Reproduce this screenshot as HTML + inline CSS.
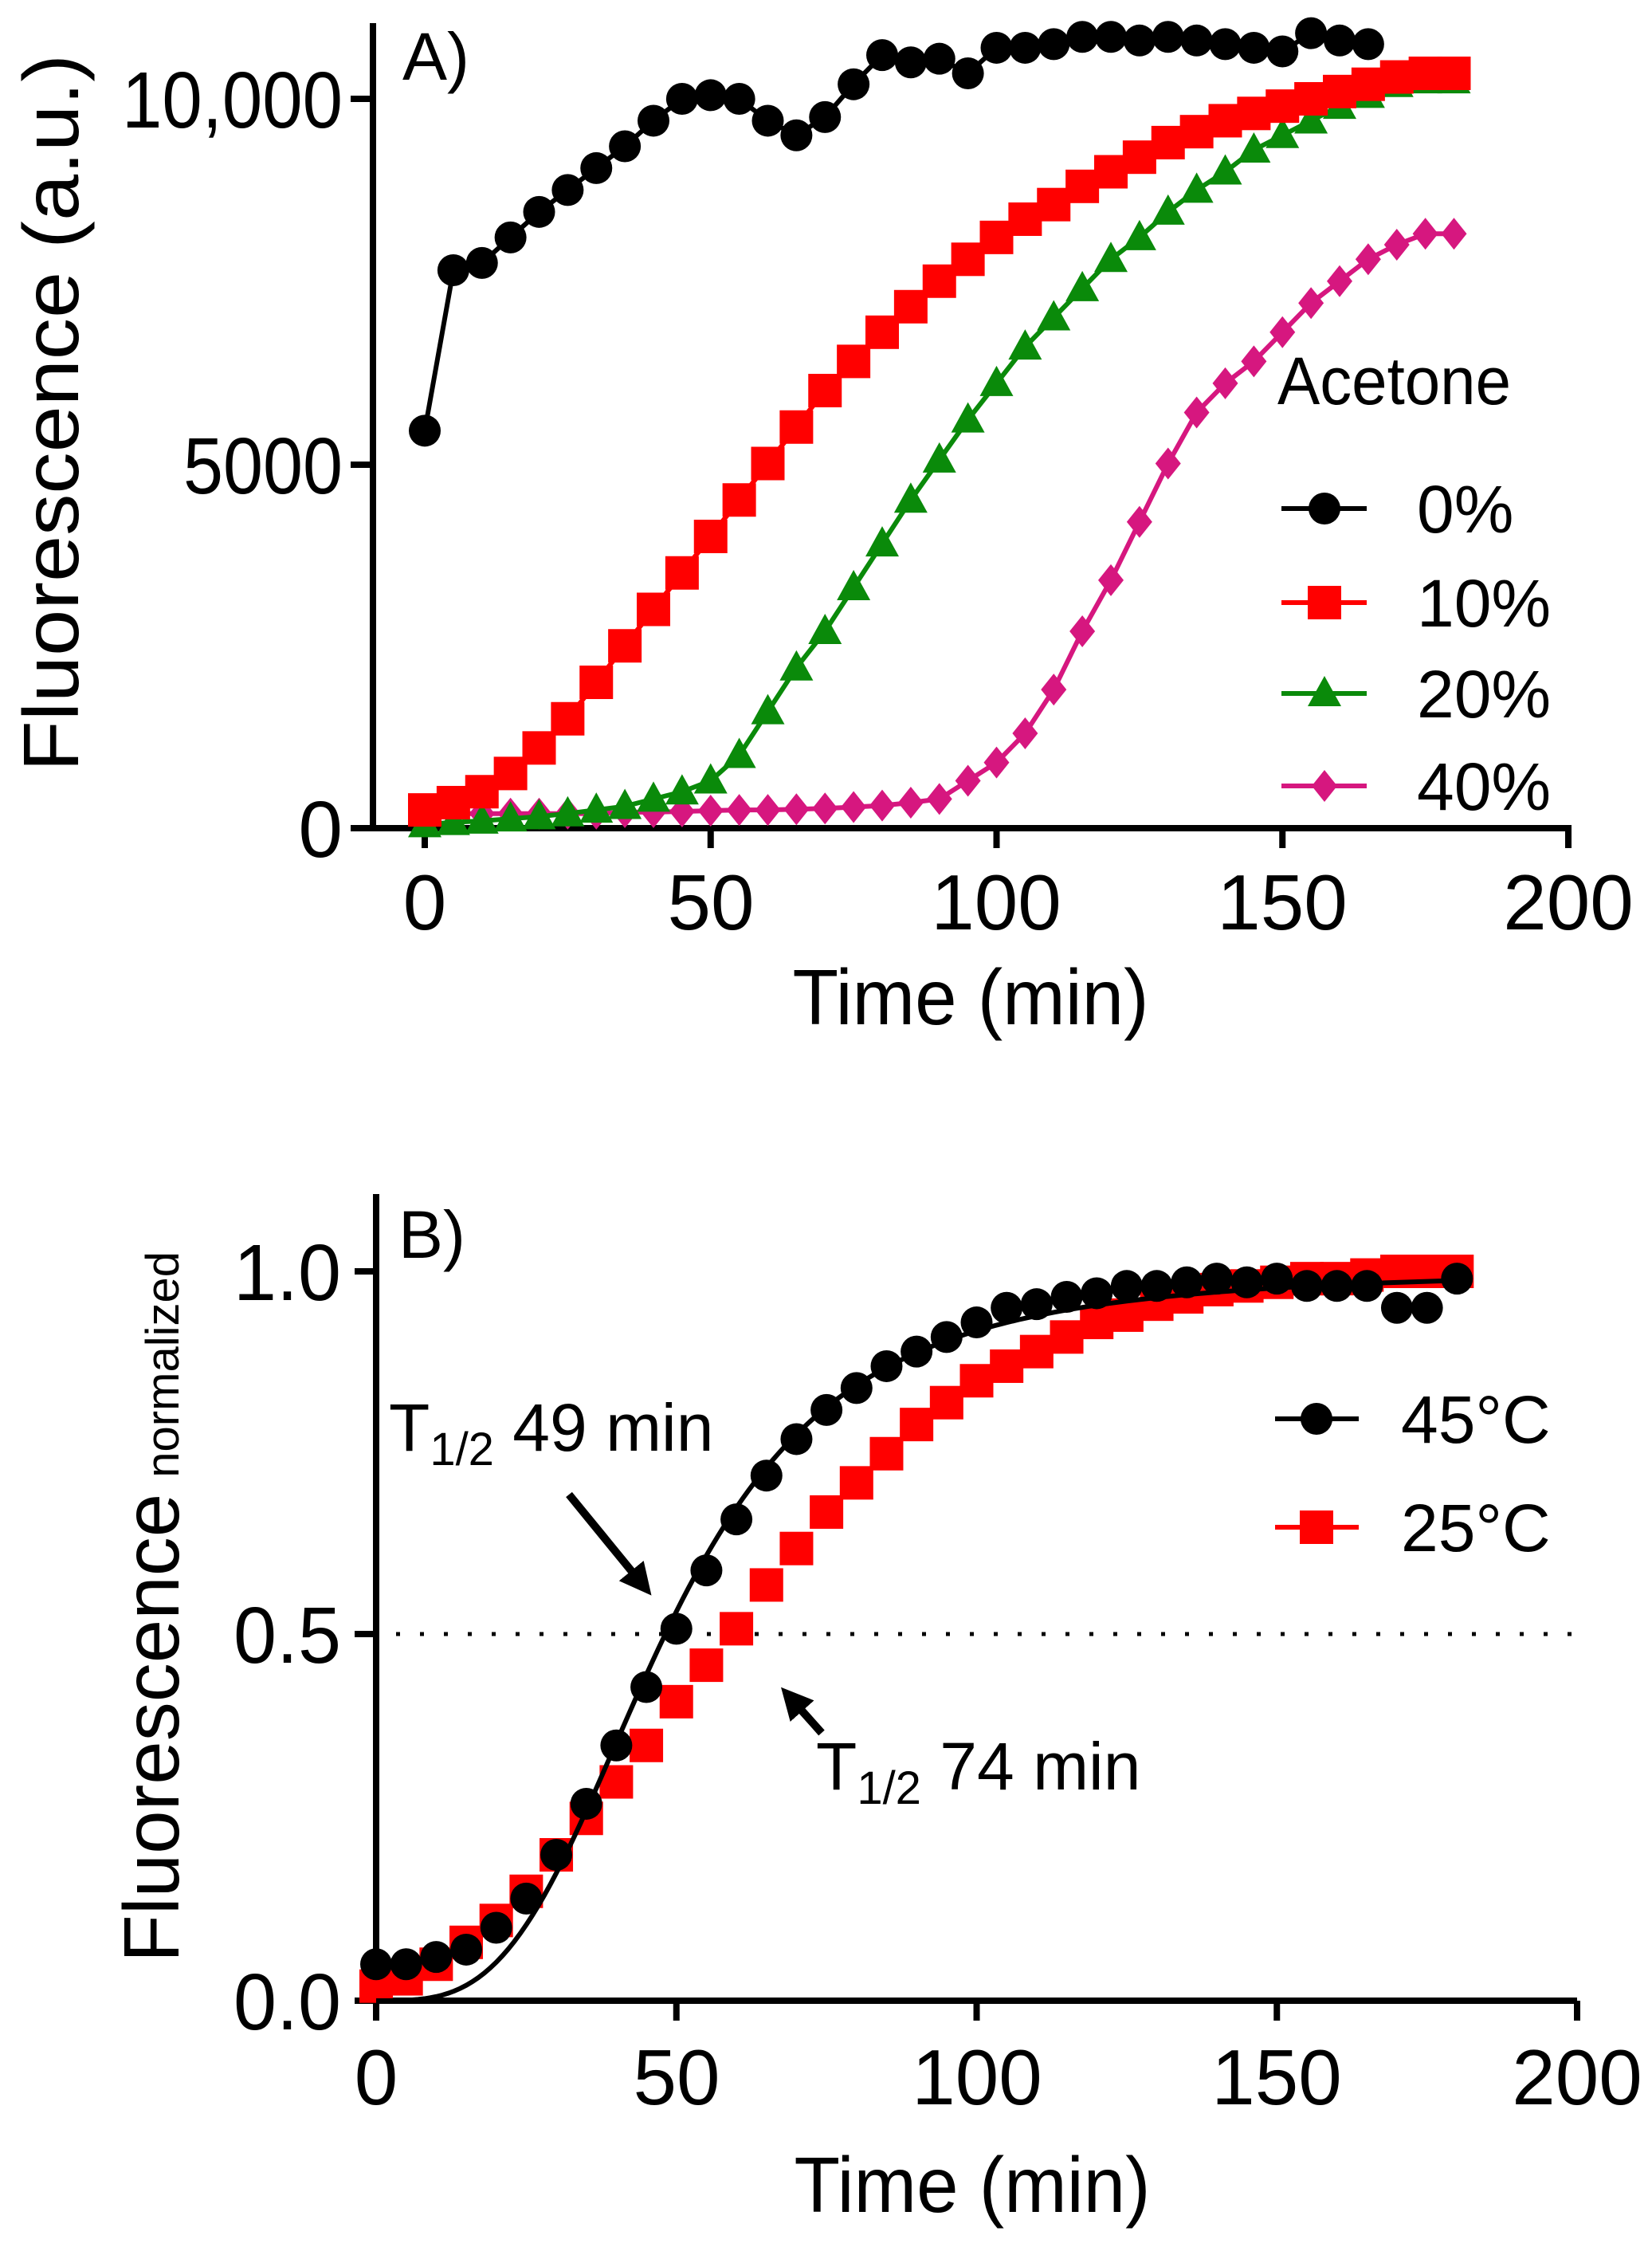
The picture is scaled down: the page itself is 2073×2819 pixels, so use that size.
<!DOCTYPE html>
<html><head><meta charset="utf-8"><style>
html,body{margin:0;padding:0;background:#fff;width:2073px;height:2819px;overflow:hidden}
svg{display:block}
text{font-family:"Liberation Sans",sans-serif;fill:#000}
</style></head><body>
<svg id="s" width="2073" height="2819" viewBox="0 0 2073 2819" xmlns="http://www.w3.org/2000/svg">
<defs>
<marker id="ah" markerWidth="4" markerHeight="4" refX="2.5" refY="2" orient="auto" markerUnits="strokeWidth"><path d="M0,0 L4,2 L0,4 z" fill="#000"/></marker>
</defs>
<g stroke="#000" stroke-width="8" fill="none">
<line x1="468" y1="29" x2="468" y2="1043"/>
<line x1="464" y1="1039" x2="1972" y2="1039"/>
<line x1="440" y1="1039" x2="468" y2="1039"/>
<line x1="440" y1="583" x2="468" y2="583"/>
<line x1="440" y1="124" x2="468" y2="124"/>
</g>
<g stroke="#000" stroke-width="8" id="xtA"></g>
<g font-size="100" text-anchor="end">
<text x="430" y="160" textLength="277" lengthAdjust="spacingAndGlyphs">10,000</text>
<text x="430" y="619" textLength="200" lengthAdjust="spacingAndGlyphs">5000</text>
<text x="430" y="1075">0</text>
</g>
<g font-size="98" text-anchor="middle">
<text x="533" y="1166">0</text>
<text x="892" y="1166">50</text>
<text x="1250" y="1166">100</text>
<text x="1609" y="1166">150</text>
<text x="1968" y="1166">200</text>
<text x="1218" y="1285" font-size="98" textLength="447" lengthAdjust="spacingAndGlyphs">Time (min)</text>
<text transform="translate(98,518) rotate(-90)" font-size="98" textLength="900" lengthAdjust="spacingAndGlyphs">Fluorescence (a.u.)</text>
</g>
<text x="505" y="100" font-size="84">A)</text>
<g id="A"></g>
<g font-size="84">
<text x="1603" y="507" textLength="293" lengthAdjust="spacingAndGlyphs">Acetone</text>
<text x="1778" y="668">0%</text>
<text x="1778" y="786">10%</text>
<text x="1778" y="900">20%</text>
<text x="1778" y="1016">40%</text>
</g>

<g stroke="#000" stroke-width="8" fill="none">
<line x1="472" y1="1498" x2="472" y2="2535"/>
<line x1="445" y1="2510" x2="1979" y2="2510"/>
<line x1="445" y1="2050" x2="472" y2="2050"/>
<line x1="445" y1="1595" x2="472" y2="1595"/>
</g>
<line x1="497" y1="2050" x2="1983" y2="2050" stroke="#000" stroke-width="5" stroke-dasharray="5 25"/>
<g stroke="#000" stroke-width="8" id="xtB"></g>
<g font-size="100" text-anchor="end">
<text x="428" y="1631" textLength="135" lengthAdjust="spacingAndGlyphs">1.0</text>
<text x="428" y="2086" textLength="135" lengthAdjust="spacingAndGlyphs">0.5</text>
<text x="428" y="2546" textLength="135" lengthAdjust="spacingAndGlyphs">0.0</text>
</g>
<g font-size="98" text-anchor="middle">
<text x="472" y="2640">0</text>
<text x="849" y="2640">50</text>
<text x="1226" y="2640">100</text>
<text x="1602" y="2640">150</text>
<text x="1979" y="2640">200</text>
<text x="1220" y="2775" textLength="447" lengthAdjust="spacingAndGlyphs">Time (min)</text>
</g>
<text transform="translate(224,2462) rotate(-90)" font-size="98">Fluorescence<tspan font-size="58" dx="20">normalized</tspan></text>
<text x="500" y="1578" font-size="84">B)</text>
<g id="B"></g>
<g font-size="84">
<text x="488" y="1820">T<tspan font-size="58" dy="18">1/2</tspan><tspan dy="-18"> 49 min</tspan></text>
<text x="1024" y="2245">T<tspan font-size="58" dy="18">1/2</tspan><tspan dy="-18"> 74 min</tspan></text>
<text x="1758" y="1810">45°C</text>
<text x="1758" y="1946">25°C</text>
</g>
<line x1="714" y1="1875" x2="808" y2="1990" stroke="#000" stroke-width="10" marker-end="url(#ah)"/>
<line x1="1031" y1="2174" x2="990" y2="2128" stroke="#000" stroke-width="10" marker-end="url(#ah)"/>
</svg>
<script>
var NS="http://www.w3.org/2000/svg";
function el(p,t,a){var e=document.createElementNS(NS,t);for(var k in a)e.setAttribute(k,a[k]);p.appendChild(e);return e;}
var xtA=document.getElementById('xtA');
[0,50,100,150,200].forEach(function(v){var x=533+v*7.175;el(xtA,'line',{x1:x,y1:1039,x2:x,y2:1064});});
var xtB=document.getElementById('xtB');
[0,50,100,150,200].forEach(function(v){var x=472+v*7.535;el(xtB,'line',{x1:x,y1:2510,x2:x,y2:2535});});
function mk(g,shape,x,y,c){
 if(shape=='c')el(g,'circle',{cx:x,cy:y,r:20,fill:c});
 else if(shape=='s')el(g,'rect',{x:x-21,y:y-21,width:42,height:42,fill:c});
 else if(shape=='t')el(g,'polygon',{points:(x)+','+(y-22)+' '+(x-21)+','+(y+16)+' '+(x+21)+','+(y+16),fill:c});
 else el(g,'polygon',{points:(x)+','+(y-20)+' '+(x-16)+','+y+' '+x+','+(y+20)+' '+(x+16)+','+y,fill:c});
}
function series(g,xs,ys,shape,c,line){
 var pts=xs.map(function(x,i){return x+','+ys[i];}).join(' ');
 if(line)el(g,'polyline',{points:pts,fill:'none',stroke:c,'stroke-width':6});
 xs.forEach(function(x,i){mk(g,shape,x,ys[i],c);});
}
var A=document.getElementById('A');
var fx=function(t){return 533+t*7.175;}, fy=function(v){return 1039-v*0.0915;};
var blk=[5450,7650,7750,8100,8450,8750,9050,9350,9700,10000,10050,10000,9700,9500,9750,10200,10600,10500,10550,10350,10700,10700,10750,10850,10850,10800,10850,10800,10750,10700,10650,10900,10800,10750];
var red=[250,350,500,750,1100,1500,2000,2500,3000,3500,4000,4500,5000,5500,6000,6400,6800,7150,7500,7800,8100,8350,8550,8800,9000,9200,9400,9550,9700,9800,9900,10000,10100,10200,10300,10350,10350];
var grn=[50,80,100,130,160,200,250,300,400,500,650,1000,1600,2200,2700,3300,3900,4500,5050,5600,6100,6600,7000,7400,7800,8100,8450,8750,9000,9300,9500,9700,9900,10050,10200,10250,10250];
var mag=[200,200,200,200,200,200,200,220,220,230,240,250,250,260,270,290,310,350,400,650,900,1300,1900,2700,3400,4200,5000,5700,6100,6400,6800,7200,7500,7800,8000,8150,8150];
function ts(n){var a=[];for(var i=0;i<n;i++)a.push(i*5);return a;}
series(A,ts(mag.length).map(fx),mag.map(fy),'d','#d6177f',true);
series(A,ts(grn.length).map(fx),grn.map(fy),'t','#0a8a0a',true);
series(A,ts(red.length).map(fx),red.map(fy),'s','#ff0000',true);
series(A,ts(blk.length).map(fx),blk.map(fy),'c','#000',true);
[[638,'c','#000'],[756,'s','#ff0000'],[870,'t','#0a8a0a'],[986,'d','#d6177f']].forEach(function(l){
 el(A,'line',{x1:1608,y1:l[0],x2:1715,y2:l[0],stroke:l[2],'stroke-width':6});mk(A,l[1],1662,l[0],l[2]);});
var B=document.getElementById('B');
var gx=function(t){return 472+t*7.535;}, gy=function(v){return 2510-v*915;};
var r2=[0.02,0.03,0.05,0.08,0.11,0.15,0.20,0.25,0.30,0.35,0.41,0.46,0.51,0.57,0.62,0.67,0.71,0.75,0.79,0.82,0.85,0.87,0.89,0.91,0.93,0.94,0.955,0.965,0.975,0.98,0.985,0.99,0.99,0.995,1.0,1.0,1.0];
var b2=[0.05,0.05,0.06,0.07,0.10,0.14,0.20,0.27,0.35,0.43,0.51,0.59,0.66,0.72,0.77,0.81,0.84,0.87,0.89,0.91,0.93,0.95,0.955,0.965,0.97,0.98,0.98,0.985,0.99,0.985,0.99,0.98,0.98,0.98,0.95,0.95,0.99];
series(B,ts(r2.length).map(gx),r2.map(gy),'s','#ff0000',false);
var cp=[];for(var t=0;t<=180;t+=1){var v=Math.pow(t,3.3)/(Math.pow(t,3.3)+Math.pow(48,3.3));cp.push(gx(t)+','+gy(v));}
el(B,'polyline',{points:cp.join(' '),fill:'none',stroke:'#000','stroke-width':6});
b2.forEach(function(v,i){mk(B,'c',gx(i*5),gy(v),'#000');});
el(B,'line',{x1:1600,y1:1780,x2:1705,y2:1780,stroke:'#000','stroke-width':6});mk(B,'c',1652,1780,'#000');
el(B,'line',{x1:1600,y1:1916,x2:1705,y2:1916,stroke:'#ff0000','stroke-width':6});mk(B,'s',1652,1916,'#ff0000');
</script>
</body></html>
